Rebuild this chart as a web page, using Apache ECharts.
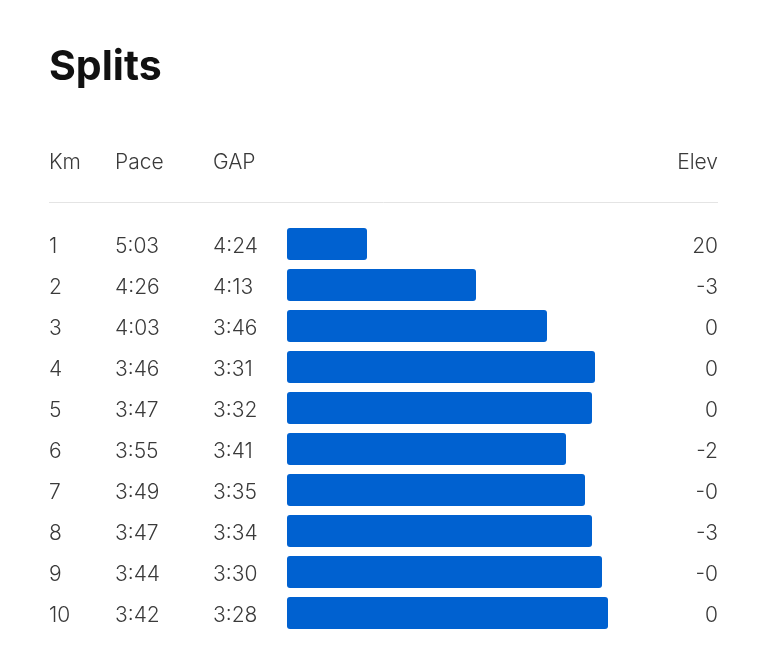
<!DOCTYPE html>
<html>
<head>
<meta charset="utf-8">
<script src="https://cdn.jsdelivr.net/npm/echarts@6/dist/echarts.min.js"></script>
<style>
html,body{margin:0;padding:0;background:#fff;}
#chart{width:768px;height:665px;}
</style>
</head>
<body>
<div id="chart"></div>
<script>
// Data
const km = ['1','2','3','4','5','6','7','8','9','10'];
const pace = ['5:03','4:26','4:03','3:46','3:47','3:55','3:49','3:47','3:44','3:42'];
const gap = ['4:24','4:13','3:46','3:31','3:32','3:41','3:35','3:34','3:30','3:28'];
const elev = ['20','-3','0','0','0','-2','-0','-3','-0','0'];
// relative bar length (speed score)
const barValues = [80, 189, 260, 308, 305, 279, 298, 305, 315, 321];
const headers = ['Km','Pace','GAP','Elev'];

const FONT = 'Inter, "Noto Sans", sans-serif';
const TXT = '#3a3a3a';
const FS = 21;
const chart = echarts.init(document.getElementById('chart'), null, {renderer:'canvas'});

function labelAxis(data, margin, position, align){
  return {
    type:'category', data:data, inverse:true, position:position,
    axisLine:{show:false}, axisTick:{show:false}, splitLine:{show:false},
    axisLabel:{show:true, margin:margin, align:align,
      formatter:function(v){ return '{t|' + v + '}'; },
      rich:{t:{fontSize:FS, color:TXT, fontFamily:FONT, fontWeight:300, lineHeight:24, padding:[5,0,0,0]}}
    }
  };
}

chart.setOption({
  animation:false,
  backgroundColor:'#ffffff',
  grid:{left:287, right:50, top:223.5, height:410, containLabel:false},
  xAxis:{type:'value', min:0, max:431, show:false},
  yAxis:[
    labelAxis(km, 238, 'left', 'left'),
    labelAxis(pace, 172, 'left', 'left'),
    labelAxis(gap, 74, 'left', 'left'),
    labelAxis(elev, 0, 'right', 'right')
  ],
  series:[{
    type:'bar', yAxisIndex:0, data:barValues, barWidth:32,
    itemStyle:{color:'#0061D0', borderRadius:3}
  }],
  graphic:[
    {type:'text', left:49, top:47, style:{text:'Splits', font:'bold 41px '+FONT, fill:'#111111'}},
    {type:'text', left:49, top:152, style:{text:headers[0], font:'300 '+FS+'px '+FONT, fill:TXT}},
    {type:'text', left:115, top:152, style:{text:headers[1], font:'300 '+FS+'px '+FONT, fill:TXT}},
    {type:'text', left:213, top:152, style:{text:headers[2], font:'300 '+FS+'px '+FONT, fill:TXT}},
    {type:'text', right:50, top:152, style:{text:headers[3], font:'300 '+FS+'px '+FONT, fill:TXT}},
    {type:'line', shape:{x1:49, y1:202.5, x2:718, y2:202.5}, style:{stroke:'#e4e4e4', lineWidth:1}}
  ]
});
</script>
</body>
</html>
